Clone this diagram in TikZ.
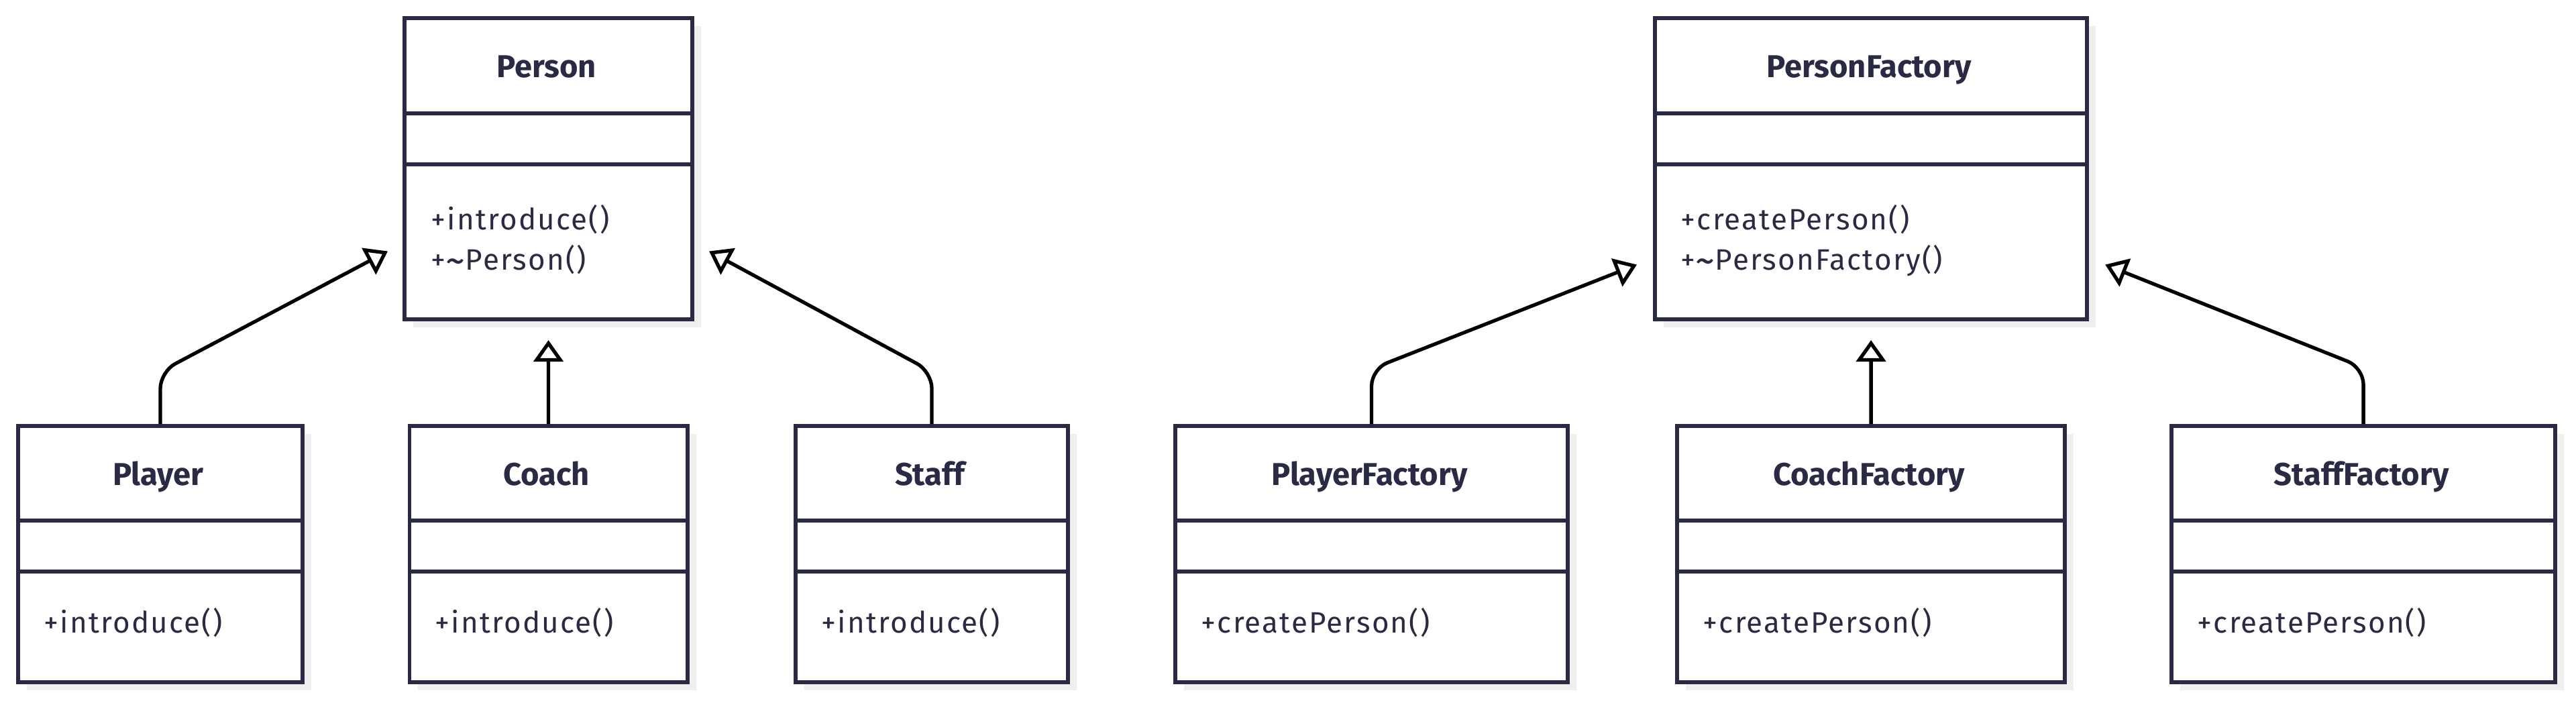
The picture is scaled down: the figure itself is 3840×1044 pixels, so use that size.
\documentclass[tikz,border=0pt]{standalone}
\usepackage{fontspec}
\setmainfont{Fira Sans}
\newfontfamily\methodfont{Fira Sans}[LetterSpace=5.0]
\usetikzlibrary{arrows.meta,shadows}
\definecolor{classline}{HTML}{2A2A44}
\definecolor{classshadow}{HTML}{EFEFEF}
\newcommand{\bigtilde}{\raisebox{-0.3ex}{\scalebox{1.35}{\textasciitilde}}}
\begin{document}
\begin{tikzpicture}[x=0.01cm,y=-0.01cm,
	classbox/.style={draw=classline,line width=1.65pt,fill=white,anchor=north west,inner sep=0pt,
		general shadow={fill=classshadow,shadow xshift=0.13cm,shadow yshift=-0.12cm}},
	classname/.style={font=\fontsize{13.4}{16}\selectfont\bfseries,text=classline,anchor=base,inner sep=0pt},
	method/.style={font=\methodfont\fontsize{12.5}{15}\selectfont,text=classline,anchor=base west,inner sep=0pt},
	divider/.style={draw=classline,line width=1.65pt},
	inherit/.style={draw=black,line width=1.5pt,rounded corners=0.25cm,-{Triangle[open,length=0.32cm,width=0.44cm]}}]
	\fill[white] (0,0) rectangle (3840,1044);
	\useasboundingbox (0,0) rectangle (3840,1044);
	% Person hierarchy
	\node[classbox,minimum width=4.29cm,minimum height=4.49cm] (person) at (600,24) {};
	\draw[divider] (600,169) -- (1029,169) (600,245) -- (1029,245);
	\node[classname] (personName) at (814.5,115) {Person};
	\node[method] (personM1) at (642,342) {+introduce()};
	\node[method] (personM2) at (642,402) {+\bigtilde Person()};
	\node[classbox,minimum width=4.24cm,minimum height=3.82cm] (player) at (24,632) {};
	\draw[divider] (24,776) -- (448,776) (24,852) -- (448,852);
	\node[classname] (playerName) at (236,723) {Player};
	\node[method] (playerM1) at (65,943) {+introduce()};
	\node[classbox,minimum width=4.14cm,minimum height=3.82cm] (coach) at (607.5,632) {};
	\draw[divider] (607.5,776) -- (1021.5,776) (607.5,852) -- (1021.5,852);
	\node[classname] (coachName) at (814.5,723) {Coach};
	\node[method] (coachM1) at (648,943) {+introduce()};
	\node[classbox,minimum width=4.06cm,minimum height=3.82cm] (staff) at (1183,632) {};
	\draw[divider] (1183,776) -- (1589,776) (1183,852) -- (1589,852);
	\node[classname] (staffName) at (1386,723) {Staff};
	\node[method] (staffM1) at (1224,943) {+introduce()};
	\draw[inherit] (player.north) -- ++(0,-78) -- ([shift={(-22,123)}]person.west);
	\draw[inherit] (coach.north) -- ([shift={(0,28)}]person.south);
	\draw[inherit] (staff.north) -- ++(0,-78) -- ([shift={(22,123)}]person.east);
	% factory hierarchy
	\node[classbox,minimum width=6.44cm,minimum height=4.49cm] (personFactory) at (2464,24) {};
	\draw[divider] (2464,169) -- (3108,169) (2464,245) -- (3108,245);
	\node[classname] (personFactoryName) at (2786,115) {PersonFactory};
	\node[method] (personFactoryM1) at (2505,342) {+createPerson()};
	\node[method] (personFactoryM2) at (2505,402) {+\bigtilde PersonFactory()};
	\node[classbox,minimum width=5.85cm,minimum height=3.82cm] (playerFactory) at (1749,632) {};
	\draw[divider] (1749,776) -- (2334,776) (1749,852) -- (2334,852);
	\node[classname] (playerFactoryName) at (2041.5,723) {PlayerFactory};
	\node[method] (playerFactoryM1) at (1790,943) {+createPerson()};
	\node[classbox,minimum width=5.78cm,minimum height=3.82cm] (coachFactory) at (2497,632) {};
	\draw[divider] (2497,776) -- (3075,776) (2497,852) -- (3075,852);
	\node[classname] (coachFactoryName) at (2786,723) {CoachFactory};
	\node[method] (coachFactoryM1) at (2538,943) {+createPerson()};
	\node[classbox,minimum width=5.72cm,minimum height=3.82cm] (staffFactory) at (3234,632) {};
	\draw[divider] (3234,776) -- (3806,776) (3234,852) -- (3806,852);
	\node[classname] (staffFactoryName) at (3520,723) {StaffFactory};
	\node[method] (staffFactoryM1) at (3275,943) {+createPerson()};
	\draw[inherit] (playerFactory.north) -- ++(0,-82) -- ([shift={(-24,143)}]personFactory.west);
	\draw[inherit] (coachFactory.north) -- ([shift={(0,28)}]personFactory.south);
	\draw[inherit] (staffFactory.north) -- ++(0,-84) -- ([shift={(24,143)}]personFactory.east);
\end{tikzpicture}
\end{document}
